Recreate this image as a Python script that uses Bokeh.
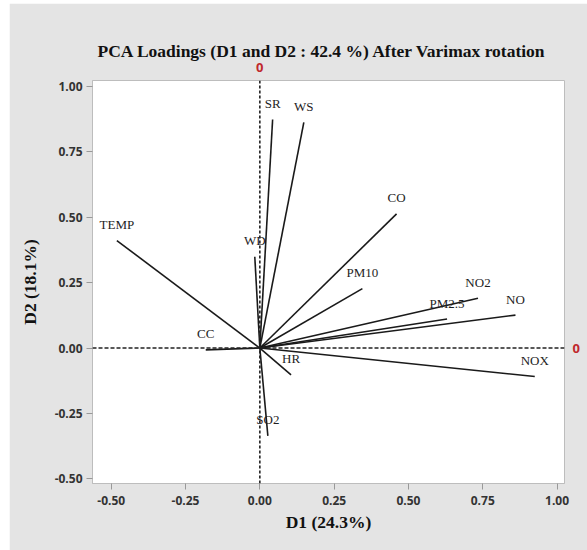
from bokeh.plotting import figure
from bokeh.models import Span, FixedTicker, NumeralTickFormatter, ColumnDataSource, Range1d, LinearAxis
from bokeh.core.properties import value
from bokeh.embed import file_html
from bokeh.resources import INLINE

names = ["SR", "WS", "CO", "TEMP", "WD", "PM10", "NO2", "PM2.5", "NO", "NOX", "HR", "CC", "SO2"]
d1 = [0.043, 0.148, 0.460, -0.481, -0.017, 0.345, 0.734, 0.630, 0.860, 0.925, 0.105, -0.182, 0.027]
d2 = [0.874, 0.863, 0.513, 0.411, 0.349, 0.227, 0.190, 0.111, 0.126, -0.109, -0.103, -0.007, -0.336]
x_ticks = [-0.50, -0.25, 0.00, 0.25, 0.50, 0.75, 1.00]
y_ticks = [-0.50, -0.25, 0.00, 0.25, 0.50, 0.75, 1.00]
ref_ticks = [0]

title = "PCA Loadings (D1 and D2 : 42.4 %) After Varimax rotation"
xlab = "D1 (24.3%)"
ylab = "D2 (18.1%)"

BG = "#e4e4e4"
EDGE = "#bdbdbd"
RED = "#c0282d"

p = figure(width=578, height=547, output_backend="svg", toolbar_location=None,
           x_range=Range1d(-0.563, 1.025), y_range=Range1d(-0.518, 1.023),
           min_border_left=83, min_border_right=23, min_border_top=77, min_border_bottom=67,
           background_fill_color="white", border_fill_color=BG,
           outline_line_color=EDGE, outline_line_width=1)
p.margin = (3, 0, 0, 9)

p.title.text = title
p.title.align = "left"
p.title.offset = 5
p.title.text_font = "Liberation Serif"
p.title.text_font_size = "17.5px"
p.title.text_font_style = "bold"
p.title.text_color = "#111111"
p.title.standoff = -3

p.grid.visible = False

for ax in (p.xaxis, p.yaxis):
    ax.axis_line_color = EDGE
    ax.major_tick_line_color = "#999999"
    ax.minor_tick_line_color = None
    ax.major_tick_in = 0
    ax.major_tick_out = 6
    ax.major_label_text_font = "Open Sans"
    ax.major_label_text_font_style = "bold"
    ax.major_label_text_font_size = "12px"
    ax.major_label_text_color = "#333333"
    ax.formatter = NumeralTickFormatter(format="0.00")
    ax.axis_label_text_font = "Liberation Serif"
    ax.axis_label_text_font_style = "bold"
    ax.axis_label_text_font_size = "17.5px"
    ax.axis_label_text_color = "#111111"

p.xaxis.ticker = FixedTicker(ticks=x_ticks)
p.yaxis.ticker = FixedTicker(ticks=y_ticks)
p.xaxis.axis_label = xlab
p.yaxis.axis_label = ylab
p.xaxis.major_label_standoff = 6
p.yaxis.major_label_standoff = 4
p.xaxis.axis_label_standoff = 4
p.yaxis.axis_label_standoff = 12

# red "0" markers for the reference lines, as extra axes
for side, stand in (("above", 3), ("right", 2)):
    ax = LinearAxis(ticker=FixedTicker(ticks=ref_ticks))
    ax.axis_line_color = None
    ax.major_tick_line_color = None
    ax.minor_tick_line_color = None
    ax.major_label_text_color = RED
    ax.major_label_text_font = "Open Sans"
    ax.major_label_text_font_style = "bold"
    ax.major_label_text_font_size = "13px"
    ax.major_label_standoff = stand
    ax.major_label_orientation = "horizontal"
    p.add_layout(ax, side)

p.add_layout(Span(location=0, dimension="width", line_color="#222222", line_width=1.6, line_dash="4 2"))
p.add_layout(Span(location=0, dimension="height", line_color="#222222", line_width=1.6, line_dash="3 2"))

src = ColumnDataSource(dict(x0=[0.0] * len(names), y0=[0.0] * len(names), x1=d1, y1=d2, name=names))
p.segment(x0="x0", y0="y0", x1="x1", y1="y1", source=src, line_color="#1a1a1a", line_width=1.6)
p.text(x="x1", y="y1", text="name", source=src, text_font=value("Liberation Serif"),
       text_font_size="13px", text_align="center", text_baseline="middle", y_offset=-16,
       text_color="#1e1e1e")

open("out.html", "w").write(file_html(p, INLINE))
